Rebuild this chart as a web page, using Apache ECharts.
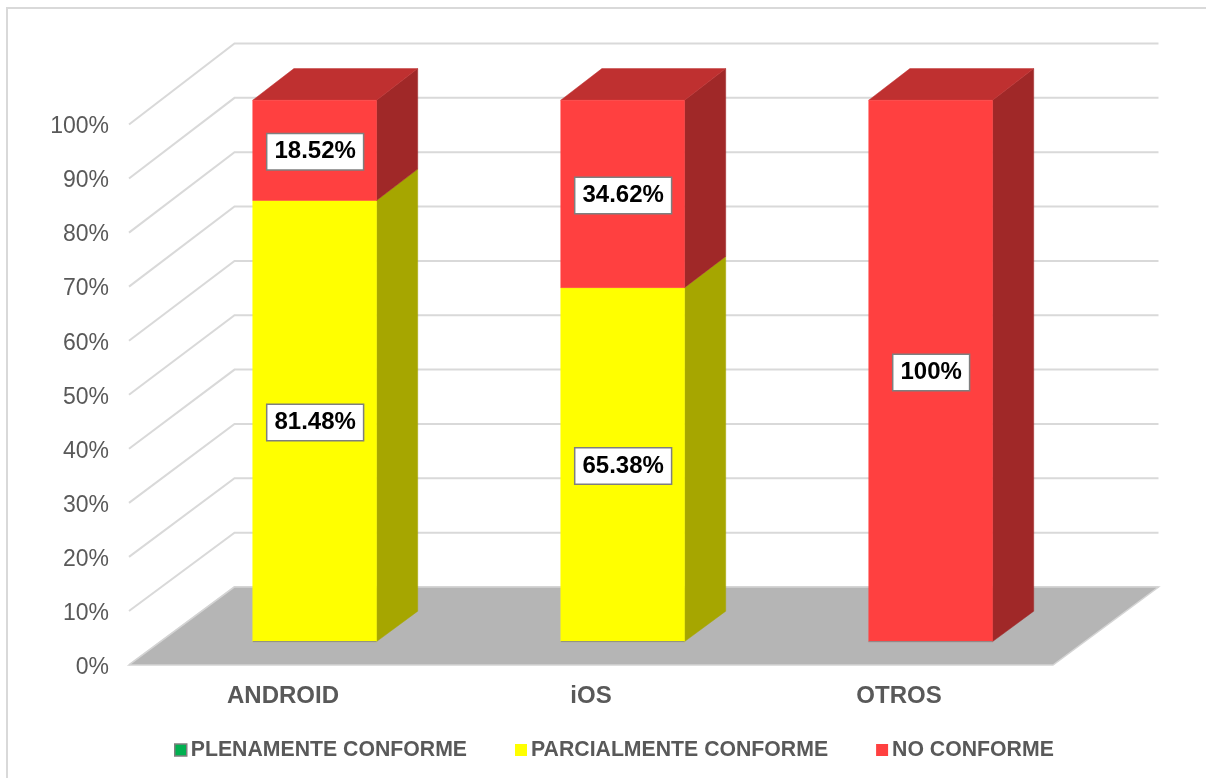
<!DOCTYPE html>
<html>
<head>
<meta charset="utf-8">
<title>Conformidad por plataforma</title>
<script src="https://cdn.jsdelivr.net/npm/echarts@6/dist/echarts.min.js"></script>
<style>
  html, body { margin: 0; padding: 0; background: #fff; }
  #chart { width: 1206px; height: 778px; }
</style>
</head>
<body>
<div id="chart"></div>
<script>
const categories = ['ANDROID', 'iOS', 'OTROS']
const plenamente = [0, 0, 0]
const parcialmente = [81.48, 65.38, 0]
const noConforme = [18.52, 34.62, 100]
const yTicks = [0, 10, 20, 30, 40, 50, 60, 70, 80, 90, 100]

const FONT = '"Liberation Sans", Arial, sans-serif'
const GRID_COLOR = '#d9d9d9'

// profundidad del "3D": d=0 plano frontal del suelo, d=1 pared del fondo
const DEPTH_X = 105.5
const DEPTH_Y = 78
const DEPTH_GROW = 3
const BAR_FRONT = 0.3
const BAR_BACK = 0.69
const BAR_RATIO = 0.402

const project = (api, cat, val, offset, d) => {
  const p = api.coord([cat, val])
  const band = api.size([1, 0])[0]
  return [
    p[0] + offset * band + DEPTH_X * d,
    p[1] - DEPTH_Y * d - (val / 100) * DEPTH_GROW * d
  ]
}

const renderWall = (params, api) => {
  const v = api.value(1)
  const last = categories.length - 1
  return {
    type: 'polyline',
    shape: {
      points: [
        project(api, 0, v, -0.5, 0),
        project(api, 0, v, -0.5, 1),
        project(api, last, v, 0.5, 1)
      ]
    },
    style: { fill: 'none', stroke: GRID_COLOR, lineWidth: 2 }
  }
}

const renderFloor = (params, api) => {
  const last = categories.length - 1
  return {
    type: 'polygon',
    shape: {
      points: [
        project(api, 0, 0, -0.5, 0),
        project(api, 0, 0, -0.5, 1),
        project(api, last, 0, 0.5, 1),
        project(api, last, 0, 0.5, 0)
      ]
    },
    style: { fill: '#b5b5b5', stroke: '#d4d4d4', lineWidth: 1.5 }
  }
}

const makeBarRenderer = (front, side, top) => (params, api) => {
  const cat = api.value(0)
  const start = api.value(1)
  const end = api.value(2)
  if (end - start <= 0) return null
  const h = BAR_RATIO / 2
  const a = project(api, cat, start, -h, BAR_FRONT)
  const b = project(api, cat, start, h, BAR_FRONT)
  const c = project(api, cat, end, h, BAR_FRONT)
  const e = project(api, cat, end, -h, BAR_FRONT)
  const bBack = project(api, cat, start, h, BAR_BACK)
  const cBack = project(api, cat, end, h, BAR_BACK)
  const eBack = project(api, cat, end, -h, BAR_BACK)
  const face = (points, color) => ({
    type: 'polygon',
    shape: { points },
    style: { fill: color, stroke: color, lineWidth: 0.5 }
  })
  const children = [face([b, bBack, cBack, c], side)]
  if (end >= 100) children.push(face([e, c, cBack, eBack], top))
  children.push(face([a, b, c, e], front))
  if (start === 0) {
    children.push({
      type: 'line',
      shape: { x1: a[0], y1: a[1], x2: b[0], y2: b[1] },
      style: { stroke: '#8c8c8c', lineWidth: 1 }
    })
  }
  children.push({
    type: 'text',
    z2: 10,
    style: {
      text: api.value(3) + '%',
      x: (a[0] + b[0]) / 2 + 0.5,
      y: (a[1] + e[1]) / 2 + 1.5,
      align: 'center',
      verticalAlign: 'middle',
      font: 'bold 24px ' + FONT,
      fill: '#000',
      backgroundColor: '#fff',
      borderColor: '#7f7f7f',
      borderWidth: 1.5,
      padding: [6, 7, 5, 7]
    }
  })
  return { type: 'group', children }
}

// acumula las series para apilar los segmentos
const stackData = (values, below) => values.map((v, i) => {
  const base = below.reduce((sum, arr) => sum + arr[i], 0)
  return [i, base, base + v, v]
})

const barSeries = (name, values, below, color, side, top) => ({
  name,
  type: 'custom',
  renderItem: makeBarRenderer(color, side, top),
  encode: { x: 0, y: [1, 2] },
  itemStyle: { color },
  z: 4,
  data: stackData(values, below)
})

const chart = echarts.init(document.getElementById('chart'))

chart.setOption({
  animation: false,
  backgroundColor: '#fff',
  textStyle: { fontFamily: FONT },
  graphic: [{
    type: 'rect',
    silent: true,
    shape: { x: 7, y: 8, width: 1400, height: 1000 },
    style: { fill: 'none', stroke: GRID_COLOR, lineWidth: 2 }
  }],
  legend: {
    left: 169,
    top: 734.5,
    itemWidth: 12,
    itemHeight: 12,
    itemGap: 48,
    icon: 'rect',
    textStyle: {
      fontFamily: FONT,
      fontSize: 21.25,
      fontWeight: 'bold',
      color: '#595959',
      padding: [0, 0, 0, -1]
    },
    data: [
      { name: 'PLENAMENTE CONFORME', itemStyle: { color: '#00b050', borderColor: '#7f7f7f', borderWidth: 1.5 } },
      { name: 'PARCIALMENTE CONFORME', itemStyle: { color: '#ffff00' } },
      { name: 'NO CONFORME', itemStyle: { color: '#ff4040' } }
    ]
  },
  grid: { left: 129, right: 153, top: 124.5, bottom: 113 },
  xAxis: {
    type: 'category',
    data: categories,
    axisLine: { show: false },
    axisTick: { show: false },
    axisLabel: {
      margin: 19,
      fontFamily: FONT,
      fontSize: 24,
      fontWeight: 'bold',
      color: '#595959'
    }
  },
  yAxis: {
    type: 'value',
    min: 0,
    max: 100,
    interval: 10,
    axisLine: { show: false },
    axisTick: { show: false },
    splitLine: { show: false },
    axisLabel: {
      margin: 20,
      verticalAlign: 'top', // baja las etiquetas unos px respecto a la marca
      lineHeight: 5,
      formatter: '{value}%',
      fontFamily: FONT,
      fontSize: 23,
      color: '#595959'
    }
  },
  series: [
    {
      type: 'custom',
      silent: true,
      renderItem: renderWall,
      encode: { x: 0, y: 1 },
      z: 1,
      data: yTicks.map(t => [0, t])
    },
    {
      type: 'custom',
      silent: true,
      renderItem: renderFloor,
      encode: { x: 0, y: 1 },
      z: 2,
      data: [[0, 0]]
    },
    barSeries('PLENAMENTE CONFORME', plenamente, [], '#00b050', '#007a38', '#009040'),
    barSeries('PARCIALMENTE CONFORME', parcialmente, [plenamente], '#ffff00', '#a6a600', '#bfbf00'),
    barSeries('NO CONFORME', noConforme, [plenamente, parcialmente], '#ff4040', '#a02828', '#bf3030')
  ]
})

window.addEventListener('resize', () => chart.resize())
</script>
</body>
</html>
